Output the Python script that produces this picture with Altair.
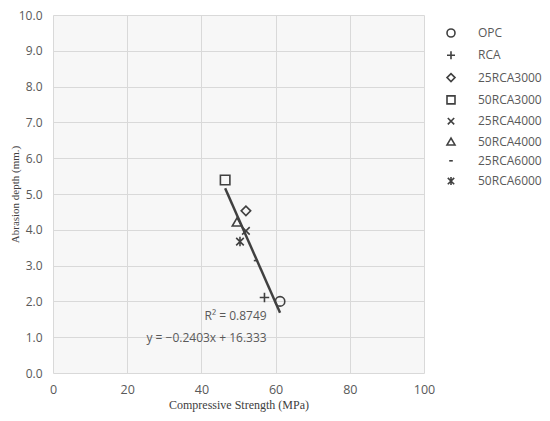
import altair as alt
import pandas as pd

series = ["OPC", "RCA", "25RCA3000", "50RCA3000", "25RCA4000", "50RCA4000", "25RCA6000", "50RCA6000"]
strength = [61.2, 57.0, 52.0, 46.4, 52.0, 49.6, 54.7, 50.4]
abrasion = [2.00, 2.11, 4.53, 5.39, 3.97, 4.22, 3.14, 3.67]
shapes = [
    "circle",
    "M-1,0L1,0M0,-1L0,1",
    "diamond",
    "square",
    "M-0.8,-0.8L0.8,0.8M-0.8,0.8L0.8,-0.8",
    "triangle-up",
    "M-0.45,0L0.45,0",
    "M-0.8,-0.8L0.8,0.8M-0.8,0.8L0.8,-0.8M0,-1L0,1",
]
x_ticks = [0, 20, 40, 60, 80, 100]
y_ticks = [0, 1, 2, 3, 4, 5, 6, 7, 8, 9, 10]
ann_text = ["R² = 0.8749", "y = −0.2403x + 16.333"]
ann_x = [57.6, 57.6]
ann_y = [1.60, 0.97]

df = pd.DataFrame({"series": series, "x": strength, "y": abrasion})
ann = pd.DataFrame({"t": ann_text, "x": ann_x, "y": ann_y})

FONT = "Open Sans"
TXT = "#595959"

xscale = alt.Scale(domain=[0, 100], nice=False, zero=True)
yscale = alt.Scale(domain=[0, 10], nice=False)

xaxis = alt.Axis(values=x_ticks, format="d", title="Compressive Strength (MPa)",
                 tickSize=0, domain=False, labelPadding=10, labelFont=FONT, labelFontSize=12.5,
                 labelColor=TXT, labelFlush=False, titleFont="Liberation Serif", titleFontSize=12,
                 titleFontWeight="normal", titleColor="#404040", titlePadding=4,
                 gridColor="#d9d9d9", gridWidth=1)
yaxis = alt.Axis(values=y_ticks, format=".1f", title="Abrasion depth (mm.)",
                 tickSize=0, domain=False, labelPadding=11, labelFont=FONT, labelFontSize=12,
                 labelColor=TXT, labelFlush=False, titleFont="Liberation Serif", titleFontSize=11,
                 titleFontWeight="normal", titleColor="#404040", titleX=-33, titleY=179,
                 gridColor="#d9d9d9", gridWidth=1, labelOverlap=False)

X = alt.X("x:Q", scale=xscale, axis=xaxis)
Y = alt.Y("y:Q", scale=yscale, axis=yaxis)

points = alt.Chart(df).mark_point(filled=False, size=90, strokeWidth=1.6, color="#404040", opacity=1).encode(
    x=X,
    y=Y,
    shape=alt.Shape("series:N", sort=series, scale=alt.Scale(domain=series, range=shapes),
                    legend=alt.Legend(title=None, orient="none", legendX=392, legendY=12,
                                      labelFont=FONT, labelFontSize=12, labelColor=TXT,
                                      symbolSize=64, symbolStrokeColor="#404040", symbolStrokeWidth=1.6,
                                      symbolFillColor="transparent", labelOffset=21, rowPadding=6.3)),
)

trend = alt.Chart(df).transform_regression("x", "y").mark_line(color="#404040", strokeWidth=2.5).encode(
    x=X,
    y=Y,
)

texts = alt.Chart(ann).mark_text(align="right", baseline="middle", font=FONT, fontSize=12, color=TXT).encode(
    x=X,
    y=Y,
    text="t:N",
)

chart = alt.layer(trend, points, texts).properties(
    width=371, height=358,
    autosize=alt.AutoSizeParams(type="none"),
    padding={"left": 45, "top": 7, "right": 118, "bottom": 40},
    background="white",
).configure_view(fill="#f7f7f7", stroke=None)

chart.save("out.html", embed_options={"renderer": "svg", "actions": False})
